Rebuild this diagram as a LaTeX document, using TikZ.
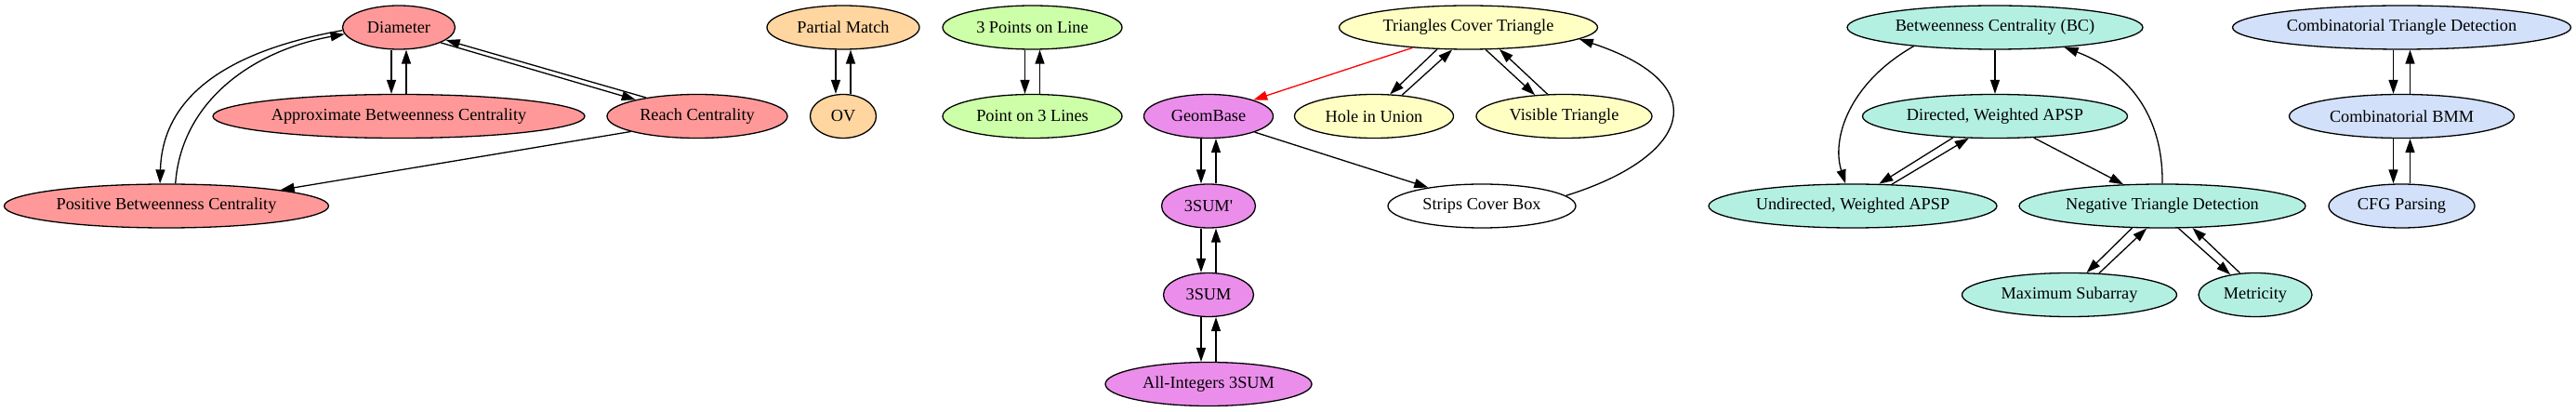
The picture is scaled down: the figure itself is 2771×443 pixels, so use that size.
\documentclass[tikz,border=0pt]{standalone}
\usepackage{fontspec}
\setmainfont{Liberation Serif}
\newfontfamily\nodefont{Liberation Serif}
\usetikzlibrary{shapes.geometric,arrows.meta,calc}
\definecolor{cred}{HTML}{FF9999}
\definecolor{corange}{HTML}{FFD5A0}
\definecolor{cgreen}{HTML}{CCFFA8}
\definecolor{cviolet}{HTML}{EB8EEB}
\definecolor{cyellow}{HTML}{FFFFC4}
\definecolor{cteal}{HTML}{B4F0E2}
\definecolor{cblue}{HTML}{D2E0FA}
\begin{document}
\begin{tikzpicture}[x=1pt,y=-1pt,
  nd/.style={ellipse, draw, line width=1.3pt, inner xsep=-30pt, inner ysep=0pt,
    minimum height=47pt, font=\nodefont\fontsize{18.3}{22}\selectfont},
  ed/.style={line width=1.3pt, -{Triangle[length=15pt,width=10pt]}},
  edred/.style={ed, draw=red, fill=red}]
\useasboundingbox (0,0) rectangle (2771,443);
% red group
\node[nd, fill=cred, minimum width=121pt] (dia) at (429,29.5) {Diameter};
\node[nd, fill=cred, minimum width=400pt] (apx) at (429,125) {Approximate Betweenness Centrality};
\node[nd, fill=cred, minimum width=349pt] (pbc) at (179,221.5) {Positive Betweenness Centrality};
\node[nd, fill=cred, minimum width=194pt] (rc) at (750,125) {Reach Centrality};
% orange
\node[nd, fill=corange, minimum width=164pt] (pm) at (907,29.5) {Partial Match};
\node[nd, fill=corange, minimum width=71pt] (ov) at (907,125) {OV};
% green
\node[nd, fill=cgreen, minimum width=193pt] (tpl) at (1110.5,29.5) {3 Points on Line};
\node[nd, fill=cgreen, minimum width=193pt] (p3l) at (1110.5,125) {Point on 3 Lines};
% violet
\node[nd, fill=cviolet, minimum width=139pt] (gb) at (1300,125) {GeomBase};
\node[nd, fill=cviolet, minimum width=101pt] (s3p) at (1300,221.5) {3SUM'};
\node[nd, fill=cviolet, minimum width=97pt] (s3) at (1300,317) {3SUM};
\node[nd, fill=cviolet, minimum width=222pt] (ai) at (1300,413) {All-Integers 3SUM};
% yellow
\node[nd, fill=white, minimum width=202pt] (scb) at (1594,221.5) {Strips Cover Box};
\node[nd, fill=cyellow, minimum width=278pt] (tct) at (1579.5,29.5) {Triangles Cover Triangle};
\node[nd, fill=cyellow, minimum width=171pt] (hu) at (1478,125) {Hole in Union};
\node[nd, fill=cyellow, minimum width=189pt] (vt) at (1682.5,125) {Visible Triangle};
% teal
\node[nd, fill=cteal, minimum width=318pt] (bc) at (2146,29.5) {Betweenness Centrality (BC)};
\node[nd, fill=cteal, minimum width=310pt] (uw) at (1993,221.5) {Undirected, Weighted APSP};
\node[nd, fill=cteal, minimum width=285pt] (dw) at (2146,125) {Directed, Weighted APSP};
\node[nd, fill=cteal, minimum width=308pt] (ntd) at (2326,221.5) {Negative Triangle Detection};
\node[nd, fill=cteal, minimum width=231pt] (ms) at (2226,317) {Maximum Subarray};
\node[nd, fill=cteal, minimum width=122pt] (met) at (2426,317) {Metricity};
% blue
\node[nd, fill=cblue, minimum width=364pt] (ctd) at (2583.5,29.5) {Combinatorial Triangle Detection};
\node[nd, fill=cblue, minimum width=242pt] (bmm) at (2583.5,125) {Combinatorial BMM};
\node[nd, fill=cblue, minimum width=157pt] (cfg) at (2583.5,221.5) {CFG Parsing};

% red edges
\draw[ed] ($(dia.south)+(-8,0)$) -- ($(apx.north)+(-8,0)$);
\draw[ed] ($(apx.north)+(8,0)$) -- ($(dia.south)+(8,0)$);
\draw[ed] (dia.-20.5) -- (rc.165);
\draw[ed] (rc.160.7) -- (dia.-15.5);
\draw[ed] (dia.183.5) .. controls (260,52) and (175,95) .. (pbc.106);
\draw[ed] (pbc.68) .. controls (195,110) and (270,55) .. (dia.187);
\draw[ed] (rc.193) -- (pbc.8.5);
% orange
\draw[ed] ($(pm.south)+(-8,0)$) -- ($(ov.north)+(-8,0)$);
\draw[ed] ($(ov.north)+(8,0)$) -- ($(pm.south)+(8,0)$);
% green
\draw[ed] ($(tpl.south)+(-8,0)$) -- ($(p3l.north)+(-8,0)$);
\draw[ed] ($(p3l.north)+(8,0)$) -- ($(tpl.south)+(8,0)$);
% violet
\draw[ed] ($(gb.south)+(-8,0)$) -- ($(s3p.north)+(-8,0)$);
\draw[ed] ($(s3p.north)+(8,0)$) -- ($(gb.south)+(8,0)$);
\draw[ed] ($(s3p.south)+(-8,0)$) -- ($(s3.north)+(-8,0)$);
\draw[ed] ($(s3.north)+(8,0)$) -- ($(s3p.south)+(8,0)$);
\draw[ed] ($(s3.south)+(-8,0)$) -- ($(ai.north)+(-8,0)$);
\draw[ed] ($(ai.north)+(8,0)$) -- ($(s3.south)+(8,0)$);
% yellow
\draw[edred] (tct.200) -- (gb.20);
\draw[ed] (tct.215.4) -- (hu.54);
\draw[ed] (hu.37) -- (tct.234.5);
\draw[ed] (tct.-52) -- (vt.144.4);
\draw[ed] (vt.127.6) -- (tct.-35.4);
\draw[ed] (gb.-19.5) -- (scb.161);
\draw[ed] (scb.7.3) .. controls (1815,170) and (1850,92) .. (tct.-6.7);
% teal
\draw[ed] (bc.193.6) .. controls (1988,90) and (1970,150) .. (uw.108);
\draw[ed] (bc.south) -- (dw.north);
\draw[ed] (dw.207) -- (uw.40.5);
\draw[ed] (uw.29) -- (dw.220);
\draw[ed] (dw.-29.5) -- (ntd.151);
\draw[ed] (ntd.north) .. controls (2327,120) and (2285,75) .. (bc.-16);
\draw[ed] (ntd.216) -- (ms.52);
\draw[ed] (ms.36) -- (ntd.235);
\draw[ed] (ntd.-54) -- (met.141.5);
\draw[ed] (met.125.7) -- (ntd.-36);
% blue
\draw[ed] ($(ctd.south)+(-9,0)$) -- ($(bmm.north)+(-9,0)$);
\draw[ed] ($(bmm.north)+(9,0)$) -- ($(ctd.south)+(9,0)$);
\draw[ed] ($(bmm.south)+(-9,0)$) -- ($(cfg.north)+(-9,0)$);
\draw[ed] ($(cfg.north)+(9,0)$) -- ($(bmm.south)+(9,0)$);
\end{tikzpicture}
\end{document}
